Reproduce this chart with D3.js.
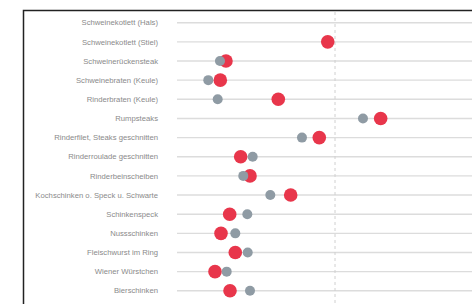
<!DOCTYPE html>
<html>
<head>
<meta charset="utf-8">
<script src="https://cdn.jsdelivr.net/npm/d3@7"></script>
<style>
  body { margin: 0; background: #fff; }
  svg { display: block; }
</style>
</head>
<body>
<div class="viz"></div>
<script>
// products, top to bottom
var products = [
    "Schweinekotlett (Hals)",
    "Schweinekotlett (Stiel)",
    "Schweinerückensteak",
    "Schweinebraten (Keule)",
    "Rinderbraten (Keule)",
    "Rumpsteaks",
    "Rinderfilet, Steaks geschnitten",
    "Rinderroulade geschnitten",
    "Rinderbeinscheiben",
    "Kochschinken o. Speck u. Schwarte",
    "Schinkenspeck",
    "Nussschinken",
    "Fleischwurst im Ring",
    "Wiener Würstchen",
    "Bierschinken"
];
// price per kg, two series (null = no dot shown)
var grayValues = [null, null, 5.44, 3.96, 5.15, 23.54, 15.82, 9.58, 8.39, 11.81, 8.90, 7.38, 8.95, 6.29, 9.24];
var redValues  = [null, 19.08, 6.20, 5.48, 12.82, 25.78, 18.01, 8.06, 9.24, 14.39, 6.67, 5.57, 7.38, 4.81, 6.71];
var refValue = 20;

var width = 472, height = 304;

var svg = d3.select(".viz").append("svg")
    .attr("width", width)
    .attr("height", height);

// frame of the screenshot
svg.append("path")
    .attr("d", "M23.5," + height + "V10.5H" + width)
    .style("fill", "none")
    .style("stroke", "#222")
    .style("stroke-width", 1.5);

var x = d3.scaleLinear().domain([0, refValue]).range([177, 335]);
var y = d3.scalePoint().domain(products).range([22.7, 290.8]);

var rows = products.map(function(p, i) {
    return { name: p, gray: grayValues[i], red: redValues[i] };
});

// grid lines
svg.selectAll(".grid")
    .data(rows)
  .enter().append("line")
    .attr("x1", x(0))
    .attr("x2", width)
    .attr("y1", function(d) { return y(d.name); })
    .attr("y2", function(d) { return y(d.name); })
    .style("stroke", "#dcdcdc")
    .style("stroke-width", 1.4);

// reference line
svg.append("line")
    .attr("x1", x(refValue))
    .attr("x2", x(refValue))
    .attr("y1", 12)
    .attr("y2", height)
    .style("stroke", "#d0d0d0")
    .style("stroke-width", 1)
    .style("stroke-dasharray", "3,3");

// labels
svg.selectAll(".label")
    .data(rows)
  .enter().append("text")
    .attr("x", 158)
    .attr("y", function(d) { return y(d.name); })
    .attr("dy", "0.35em")
    .attr("text-anchor", "end")
    .style("font-family", "'Liberation Sans', Arial, sans-serif")
    .style("font-size", "7.7px")
    .style("fill", "#8a8a8a")
    .text(function(d) { return d.name; });

svg.selectAll(".red")
    .data(rows.filter(function(d) { return d.red != null; }))
  .enter().append("circle")
    .attr("cx", function(d) { return x(d.red); })
    .attr("cy", function(d) { return y(d.name); })
    .attr("r", 6.8)
    .style("fill", "#e8364b");

svg.selectAll(".gray")
    .data(rows.filter(function(d) { return d.gray != null; }))
  .enter().append("circle")
    .attr("cx", function(d) { return x(d.gray); })
    .attr("cy", function(d) { return y(d.name); })
    .attr("r", 5)
    .style("fill", "#8f9ba4");
</script>
</body>
</html>
